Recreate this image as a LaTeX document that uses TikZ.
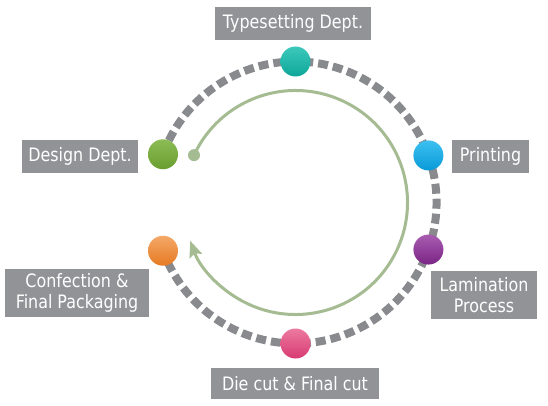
\documentclass[tikz,border=0pt]{standalone}
\usepackage{fontspec}
\setmainfont{DejaVu Sans}[FakeStretch=0.86]
\usetikzlibrary{arrows.meta,calc}
\definecolor{boxgray}{HTML}{929397}
\definecolor{dashgray}{HTML}{898A8E}
\definecolor{flowgreen}{HTML}{A5BB92}
\tikzset{
  lbl/.style={fill=boxgray, text=white, inner sep=0pt, align=center,
    font=\fontsize{18.5}{21.5}\selectfont},
  dot/.style={circle, minimum size=30pt, inner sep=0pt},
}
\begin{document}
\begin{tikzpicture}[x=1pt,y=1pt]
\useasboundingbox (0,0) rectangle (548,405);
\coordinate (C) at (295.5,202.5);
% dashed ring
\draw[dashgray, line width=8pt, dash pattern=on 10pt off 5pt]
  ($(C)+(160:141)$) arc[start angle=160, end angle=-160, radius=141];
% inner green arrow
\node[circle, fill=flowgreen, minimum size=12pt, inner sep=0pt] (start) at ($(C)+(155:112)$) {};
\draw[flowgreen, line width=3pt, -{Stealth[length=16pt,width=13pt,inset=2.5pt]}]
  (start.center) arc[start angle=155, end angle=-160, radius=112];
% dots
\node[dot, top color={rgb,255:red,60;green,201;blue,187}, bottom color={rgb,255:red,14;green,166;blue,153}] (typ) at ($(C)+(90:141)$) {};
\node[dot, top color={rgb,255:red,60;green,192;blue,240}, bottom color={rgb,255:red,10;green,154;blue,216}] (pri) at ($(C)+(19.5:141)$) {};
\node[dot, top color={rgb,255:red,168;green,92;blue,176}, bottom color={rgb,255:red,122;green,37;blue,133}] (lam) at ($(C)+(-19.5:141)$) {};
\node[dot, top color={rgb,255:red,236;green,122;blue,160}, bottom color={rgb,255:red,216;green,58;blue,114}] (die) at ($(C)+(-90:141)$) {};
\node[dot, top color={rgb,255:red,244;green,168;blue,104}, bottom color={rgb,255:red,230;green,122;blue,34}] (con) at ($(C)+(-160:141)$) {};
\node[dot, top color={rgb,255:red,140;green,188;blue,85}, bottom color={rgb,255:red,106;green,158;blue,48}] (des) at ($(C)+(160:141)$) {};
% labels
\node[lbl, minimum width=156pt, minimum height=33pt] (ltyp) at (293,381.5) {Typesetting Dept.};
\node[lbl, minimum width=116pt, minimum height=33pt] (ldes) at (80,248.5) {Design Dept.};
\node[lbl, minimum width=77pt, minimum height=33pt] (lpri) at (490.5,248.5) {Printing};
\node[lbl, minimum width=106pt, minimum height=48pt] (llam) at (484,110) {Lamination\\Process};
\node[lbl, minimum width=168pt, minimum height=31pt] (ldie) at (295,21.5) {Die cut \& Final cut};
\node[lbl, minimum width=144pt, minimum height=48pt] (lcon) at (77,112) {Confection \&\\Final Packaging};
\end{tikzpicture}
\end{document}
